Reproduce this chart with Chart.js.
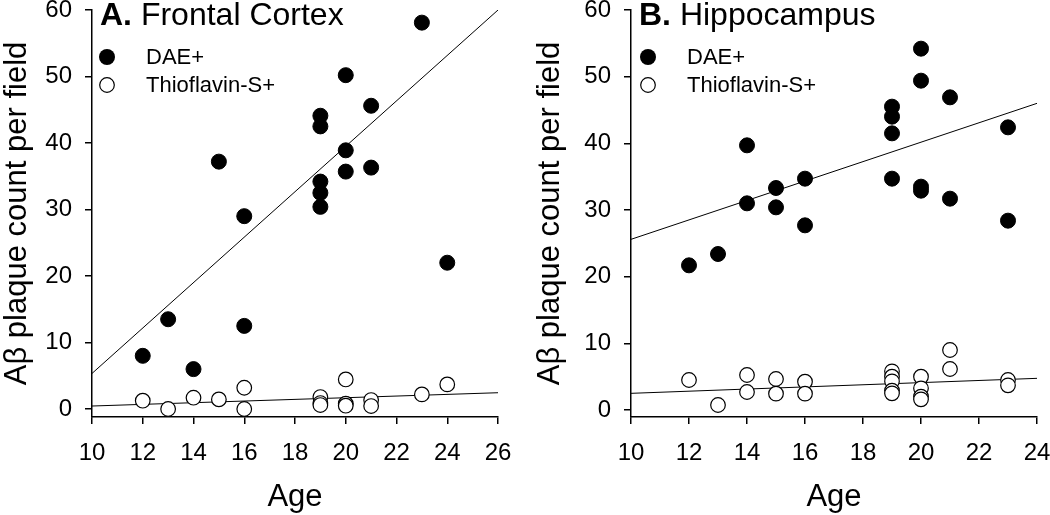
<!DOCTYPE html>
<html>
<head>
<meta charset="utf-8">
<script src="https://cdn.jsdelivr.net/npm/chart.js@4/dist/chart.umd.min.js"></script>
<style>
  html, body { margin: 0; padding: 0; background: #fff; }
  #wrap { position: relative; width: 1050px; height: 515px; }
  #chartA { position: absolute; left: 0; top: 0; }
  #chartB { position: absolute; left: 533px; top: 0; }
</style>
</head>
<body>
<div id="wrap">
  <canvas id="chartA" width="530" height="515"></canvas>
  <canvas id="chartB" width="517" height="515"></canvas>
</div>
<script>
// tick labels
const yTicks = [0, 10, 20, 30, 40, 50, 60];
const xTicksA = [10, 12, 14, 16, 18, 20, 22, 24, 26];
const xTicksB = [10, 12, 14, 16, 18, 20, 22, 24];

// A. Frontal Cortex
const ageA_dae = [12, 13, 14, 15, 16, 16, 19, 19, 19, 19, 19, 20, 20, 20, 21, 21, 23, 24];
const daeA = [8.0, 13.5, 6.0, 37.2, 29.0, 12.5, 30.4, 32.5, 34.2, 42.5, 44.1, 35.7, 38.9, 50.2, 36.3, 45.6, 58.1, 22.0];
const ageA_thio = [12, 13, 14, 15, 16, 16, 19, 19, 19, 20, 20, 20, 21, 21, 23, 24];
const thioA = [1.25, 0.0, 1.7, 1.45, 3.2, 0.0, 1.8, 0.9, 0.6, 4.45, 0.8, 0.5, 1.35, 0.45, 2.2, 3.7];
const fitAgeA = [10, 26];
const fitDaeA = [5.35, 60];
const fitThioA = [0.45, 2.45];

// B. Hippocampus
const ageB_dae = [12, 13, 14, 14, 15, 15, 16, 16, 19, 19, 19, 19, 20, 20, 20, 20, 21, 21, 23, 23];
const daeB = [21.7, 23.4, 31.0, 39.7, 30.4, 33.3, 27.7, 34.7, 34.7, 41.5, 44.0, 45.5, 32.9, 33.5, 49.4, 54.2, 31.7, 46.9, 28.4, 42.4];
const ageB_thio = [12, 13, 14, 14, 15, 15, 16, 16, 19, 19, 19, 19, 19, 20, 20, 20, 20, 21, 21, 23, 23];
const thioB = [4.5, 0.75, 5.25, 2.7, 4.65, 2.45, 4.25, 2.45, 5.8, 5.0, 4.3, 2.9, 2.5, 5.0, 3.25, 2.0, 1.6, 9.0, 6.15, 4.5, 3.7];
const fitAgeB = [10, 24];
const fitDaeB = [25.6, 46.0];
const fitThioB = [2.5, 4.75];

const FONT = "'Liberation Sans', Arial, sans-serif";

function pts(xs, ys) {
  return xs.map((x, i) => ({ x: x, y: ys[i] }));
}

// panel letter + title and the legend inside the plot
const panelText = {
  id: "panelText",
  afterDraw(chart, args, opts) {
    const ctx = chart.ctx;
    const x0 = chart.chartArea.left;
    ctx.save();
    ctx.fillStyle = "#000";
    ctx.textBaseline = "alphabetic";
    ctx.font = "bold 32px " + FONT;
    ctx.fillText(opts.letter, x0 + 8, 25);
    const w = ctx.measureText(opts.letter + " ").width;
    ctx.font = "32px " + FONT;
    ctx.fillText(opts.title, x0 + 8 + w, 25);

    ctx.font = "22px " + FONT;
    ctx.textBaseline = "middle";
    const lx = x0 + opts.legendX;
    ctx.beginPath();
    ctx.arc(lx, 57, 8, 0, Math.PI * 2);
    ctx.fill();
    ctx.fillText("DAE+", lx + 39, 58);
    ctx.beginPath();
    ctx.arc(lx, 85, 7.3, 0, Math.PI * 2);
    ctx.fillStyle = "#fff";
    ctx.fill();
    ctx.lineWidth = 1.2;
    ctx.strokeStyle = "#000";
    ctx.stroke();
    ctx.fillStyle = "#000";
    ctx.fillText("Thioflavin-S+", lx + 39, 86);
    ctx.restore();
  }
};

function makeChart(id, cfg) {
  const axisY = cfg.axisLeft;
  new Chart(document.getElementById(id), {
    type: "scatter",
    data: {
      datasets: [
        {
          type: "line",
          data: pts(cfg.fitAge, cfg.fitDae),
          borderColor: "#000",
          borderWidth: 1,
          pointRadius: 0,
          order: 2
        },
        {
          type: "line",
          data: pts(cfg.fitAge, cfg.fitThio),
          borderColor: "#000",
          borderWidth: 1,
          pointRadius: 0,
          order: 2
        },
        {
          label: "DAE+",
          data: pts(cfg.ageDae, cfg.dae),
          backgroundColor: "#000",
          borderColor: "#000",
          borderWidth: 1,
          pointRadius: 7.5,
          order: 1
        },
        {
          label: "Thioflavin-S+",
          data: pts(cfg.ageThio, cfg.thio),
          backgroundColor: "#fff",
          borderColor: "#000",
          borderWidth: 1.2,
          pointRadius: 7.3,
          order: 0
        }
      ]
    },
    options: {
      responsive: false,
      animation: false,
      events: [],
      layout: { padding: { left: 0, right: cfg.padRight, top: 10, bottom: 0 } },
      plugins: {
        legend: { display: false },
        tooltip: { enabled: false },
        panelText: { letter: cfg.letter, title: cfg.title, legendX: cfg.legendX }
      },
      scales: {
        x: {
          type: "linear",
          min: cfg.xTicks[0],
          max: cfg.xTicks[cfg.xTicks.length - 1],
          afterBuildTicks: (s) => { s.ticks = cfg.xTicks.map((v) => ({ value: v })); },
          afterFit: (s) => { s.height = 98; s.paddingLeft = 0; s.paddingRight = 0; },
          grid: { drawOnChartArea: false, color: "#000", tickLength: 7, lineWidth: 1.5 },
          border: { color: "#000", width: 1.5 },
          ticks: { color: "#000", font: { family: FONT, size: 24 }, padding: 15, maxRotation: 0 },
          title: { display: true, text: "Age", color: "#000", font: { family: FONT, size: 31, lineHeight: 1.1 }, padding: { top: 0, bottom: 0 } }
        },
        y: {
          type: "linear",
          min: cfg.yMin,
          max: 60,
          afterBuildTicks: (s) => { s.ticks = yTicks.map((v) => ({ value: v })); },
          afterFit: (s) => { s.width = axisY; s.paddingTop = 0; s.paddingBottom = 0; },
          grid: { drawOnChartArea: false, color: "#000", tickLength: 7, lineWidth: 1.5 },
          border: { color: "#000", width: 1.5 },
          ticks: { color: "#000", font: { family: FONT, size: 24 }, padding: 13 },
          title: { display: true, text: "Aβ plaque count per field", color: "#000", font: { family: FONT, size: 31, lineHeight: 1.1 }, padding: { top: 0, bottom: 0 } }
        }
      }
    },
    plugins: [panelText]
  });
}

makeChart("chartA", {
  letter: "A.", title: "Frontal Cortex", legendX: 15,
  axisLeft: 92, padRight: 32, yMin: -1.2, xTicks: xTicksA,
  ageDae: ageA_dae, dae: daeA, ageThio: ageA_thio, thio: thioA,
  fitAge: fitAgeA, fitDae: fitDaeA, fitThio: fitThioA
});

makeChart("chartB", {
  letter: "B.", title: "Hippocampus", legendX: 17,
  axisLeft: 98, padRight: 13, yMin: -1.05, xTicks: xTicksB,
  ageDae: ageB_dae, dae: daeB, ageThio: ageB_thio, thio: thioB,
  fitAge: fitAgeB, fitDae: fitDaeB, fitThio: fitThioB
});
</script>
</body>
</html>
